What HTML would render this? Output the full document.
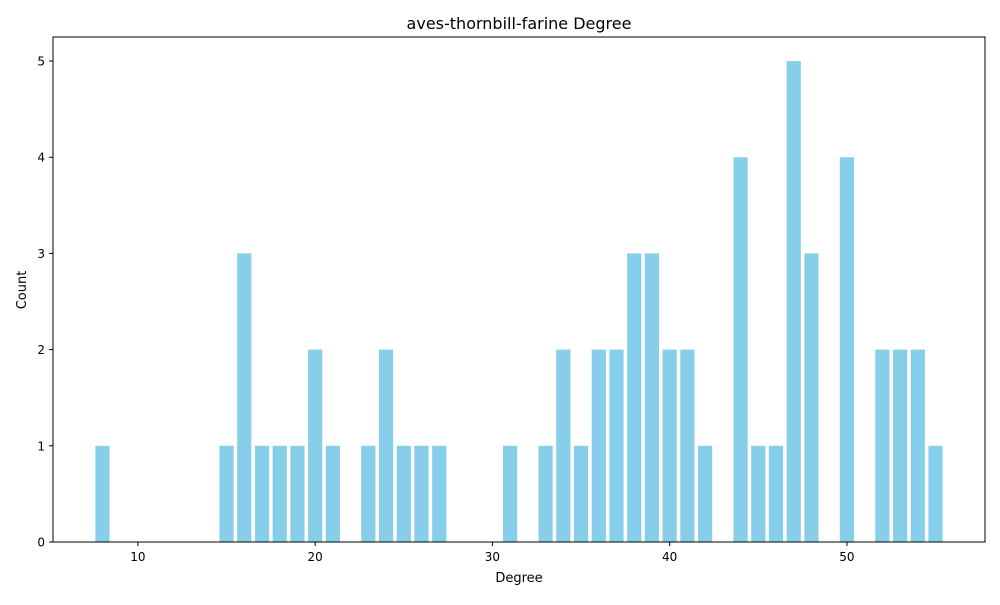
<!DOCTYPE html>
<html><head><meta charset="utf-8"><style>
body{margin:0;background:#fff;font-family:"Liberation Sans","DejaVu Sans",sans-serif;}
svg text{font-family:"DejaVu Sans","Liberation Sans",sans-serif;}
</style></head><body>
<svg id="chart" width="1000" height="600" xmlns="http://www.w3.org/2000/svg">
<rect width="1000" height="600" fill="#fff"/>
<text x="519" y="29" font-size="16" text-anchor="middle">aves-thornbill-farine Degree</text>
<g id="bars"></g>
<g id="xt"></g>
<g id="yt"></g>
<rect x="53" y="37" width="932" height="505" fill="none" stroke="#000" stroke-width="1"/>
<text x="519" y="582" font-size="13" text-anchor="middle">Degree</text>
<text transform="translate(26,290) rotate(-90)" font-size="13" text-anchor="middle">Count</text>
</svg>
<script>
const degrees=[8,15,16,17,18,19,20,21,23,24,25,26,27,31,33,34,35,36,37,38,39,40,41,42,44,45,46,47,48,50,52,53,54,55];
const counts=[1,1,3,1,1,1,2,1,1,2,1,1,1,1,1,2,1,2,2,3,3,2,2,1,4,1,1,5,3,4,2,2,2,1];
const xTicks=[10,20,30,40,50];
const yTicks=[0,1,2,3,4,5];
const NS="http://www.w3.org/2000/svg";
const L=53,R=985,T=37,B=542;
const xmin=Math.min(...degrees)-0.4,xmax=Math.max(...degrees)+0.4,xm=(xmax-xmin)*0.05;
const x0=xmin-xm,x1=xmax+xm;
const ymax=Math.max(...counts)*1.05;
const sx=v=>L+(v-x0)/(x1-x0)*(R-L);
const sy=v=>B-v/ymax*(B-T);
function mk(t,a,p){const e=document.createElementNS(NS,t);for(const k in a)e.setAttribute(k,a[k]);p.appendChild(e);return e;}
const bg=document.getElementById('bars');
degrees.forEach((d,i)=>{
 const r=mk('rect',{x:sx(d-0.4),y:sy(counts[i]),width:sx(d+0.4)-sx(d-0.4),height:B-sy(counts[i]),fill:'#87ceeb'},bg);
 
 
});
const xg=document.getElementById('xt');
xTicks.forEach(v=>{
 const l=mk('line',{x1:sx(v),x2:sx(v),y1:B,y2:B+4,stroke:'#000'},xg);
 
 
 const t=mk('text',{x:sx(v),y:B+19,'font-size':12,'text-anchor':'middle'},xg);t.textContent=v;
 
 
});
const yg=document.getElementById('yt');
yTicks.forEach(v=>{
 const l=mk('line',{x1:L-4,x2:L,y1:sy(v),y2:sy(v),stroke:'#000'},yg);
 
 
 const t=mk('text',{x:L-8,y:sy(v)+4.5,'font-size':12,'text-anchor':'end'},yg);t.textContent=v;
 
 
});
</script>
</body></html>
